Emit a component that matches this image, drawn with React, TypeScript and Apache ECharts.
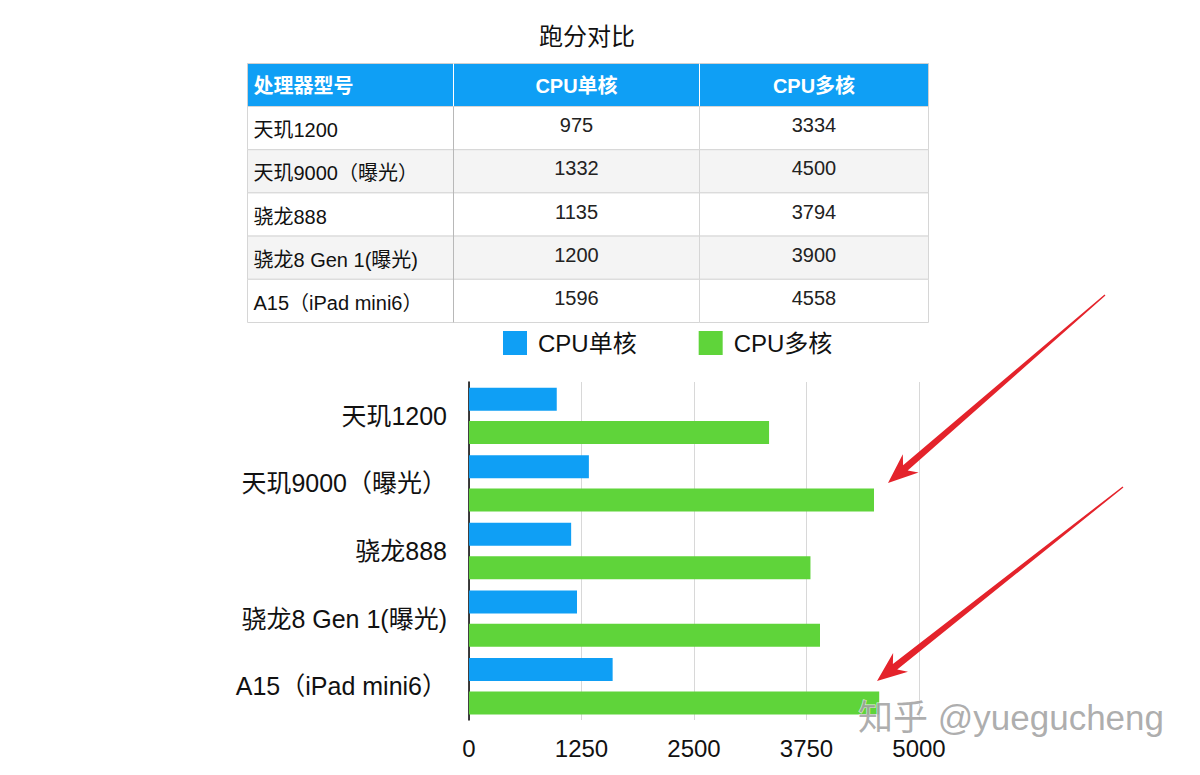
import React, { useEffect, useRef } from "react";
import * as echarts from "echarts";

const categories = ["天玑1200", "天玑9000（曝光）", "骁龙888", "骁龙8 Gen 1(曝光)", "A15（iPad mini6）"];
const singleCore = [975, 1332, 1135, 1200, 1596];
const multiCore = [3334, 4500, 3794, 3900, 4558];
const seriesNames = ["CPU单核", "CPU多核"];
const tableHeaders = ["处理器型号", "CPU单核", "CPU多核"];
const chartTitle = "跑分对比";
const xTicks = { min: 0, max: 5000, interval: 1250 };
const watermark = "知乎 @yuegucheng";

const BLUE = "#0f9ff5";
const GREEN = "#5fd43a";
const RED = "#e4232b";
const FONT = "'Liberation Sans', 'Noto Sans CJK SC', sans-serif";

function arrowPoints(x1: number, y1: number, x2: number, y2: number) {
  const dx = x2 - x1, dy = y2 - y1;
  const len = Math.hypot(dx, dy);
  const ux = dx / len, uy = dy / len;
  const nx = -uy, ny = ux;
  const headL = 30, headW = 12, notch = 23, neckW = 3.5, tailW = 0.7;
  const p = (d: number, w: number) => [x1 + ux * d + nx * w, y1 + uy * d + ny * w];
  return [p(0, tailW), p(len - notch, neckW), p(len - headL, headW), p(len, 0), p(len - headL, -headW), p(len - notch, -neckW), p(0, -tailW)];
}

function buildTable() {
  const els: any[] = [];
  const colX = [247.5, 453.5, 699.5, 928.5];
  const top = 63.5;
  const headH = 43;
  const rowH = 43.2;
  els.push({ type: "rect", shape: { x: colX[0], y: top, width: colX[3] - colX[0], height: headH }, style: { fill: BLUE, stroke: "#d0d0d0", lineWidth: 1 } });
  for (let c = 1; c < 3; c++) {
    els.push({ type: "line", shape: { x1: colX[c], y1: top, x2: colX[c], y2: top + headH }, style: { stroke: "#ffffff", lineWidth: 1 } });
  }
  tableHeaders.forEach((h, c) => {
    els.push({
      type: "text",
      x: c === 0 ? colX[0] + 6 : (colX[c] + colX[c + 1]) / 2,
      y: top + headH / 2 + 1,
      style: { text: h, fill: "#ffffff", font: `bold 20px ${FONT}`, textAlign: c === 0 ? "left" : "center", textVerticalAlign: "middle" },
    });
  });
  categories.forEach((cat, r) => {
    const y = top + headH + r * rowH;
    const fill = r % 2 === 1 ? "#f4f4f4" : "#ffffff";
    for (let c = 0; c < 3; c++) {
      els.push({ type: "rect", shape: { x: colX[c], y, width: colX[c + 1] - colX[c], height: rowH }, style: { fill, stroke: "#d6d6d6", lineWidth: 1 } });
    }
    els.push({ type: "text", x: colX[0] + 6, y: y + rowH / 2 + 2, style: { text: cat, fill: "#111", font: `20px ${FONT}`, textAlign: "left", textVerticalAlign: "middle" } });
    els.push({ type: "text", x: (colX[1] + colX[2]) / 2, y: y + rowH / 2 - 3, style: { text: String(singleCore[r]), fill: "#222", font: `20px ${FONT}`, textAlign: "center", textVerticalAlign: "middle" } });
    els.push({ type: "text", x: (colX[2] + colX[3]) / 2, y: y + rowH / 2 - 3, style: { text: String(multiCore[r]), fill: "#222", font: `20px ${FONT}`, textAlign: "center", textVerticalAlign: "middle" } });
  });
  els.push({ type: "line", shape: { x1: colX[1], y1: top + headH, x2: colX[1], y2: top + headH + 5 * rowH }, style: { stroke: "#b8b8b8", lineWidth: 1 } });
  return els;
}

export default function App() {
  const ref = useRef<HTMLDivElement>(null);
  useEffect(() => {
    if (!ref.current) return;
    const chart = echarts.init(ref.current, null, { renderer: "svg" });
    chart.setOption({
      animation: false,
      backgroundColor: "#ffffff",
      textStyle: { fontFamily: FONT },
      legend: {
        left: 498,
        top: 326,
        itemWidth: 24,
        itemHeight: 24,
        itemGap: 62,
        icon: "rect",
        data: seriesNames,
        textStyle: { fontSize: 24, color: "#111", fontFamily: FONT, padding: [0, 0, 0, 6] },
      },
      grid: { left: 469, right: 281, top: 382, bottom: 55, containLabel: false },
      xAxis: {
        type: "value",
        min: xTicks.min,
        max: xTicks.max,
        interval: xTicks.interval,
        axisLine: { show: false },
        axisTick: { show: false },
        splitLine: { show: true, lineStyle: { color: "#d8d8d8", width: 1 } },
        axisLabel: { fontSize: 24, color: "#111", margin: 16, fontFamily: FONT, formatter: (v: number) => String(v) },
      },
      yAxis: {
        type: "category",
        data: categories,
        inverse: true,
        axisLine: { show: true, lineStyle: { color: "#000", width: 1.5 } },
        axisTick: { show: false },
        axisLabel: { fontSize: 25, color: "#111", margin: 22, fontFamily: FONT },
      },
      series: [
        { name: seriesNames[0], type: "bar", data: singleCore, barWidth: 23, barGap: "45%", itemStyle: { color: BLUE } },
        { name: seriesNames[1], type: "bar", data: multiCore, barWidth: 23, barGap: "45%", itemStyle: { color: GREEN } },
      ],
      graphic: [
        { type: "text", x: 587, y: 36, style: { text: chartTitle, fill: "#111", font: `24px ${FONT}`, textAlign: "center", textVerticalAlign: "middle" } },
        ...buildTable(),
        { type: "polygon", shape: { points: arrowPoints(1105, 295, 888, 483) }, style: { fill: RED }, z: 100 },
        { type: "polygon", shape: { points: arrowPoints(1123, 487, 877, 681) }, style: { fill: RED }, z: 100 },
        {
          type: "text",
          x: 1011,
          y: 717,
          z: 101,
          style: { text: watermark, fill: "rgba(160,160,160,0.85)", stroke: "rgba(255,255,255,0.8)", lineWidth: 1, font: `35px ${FONT}`, textAlign: "center", textVerticalAlign: "middle" },
        },
      ],
    });
    return () => chart.dispose();
  }, []);
  return <div ref={ref} style={{ position: "fixed", left: 0, top: 0, width: 1200, height: 775 }} />;
}
